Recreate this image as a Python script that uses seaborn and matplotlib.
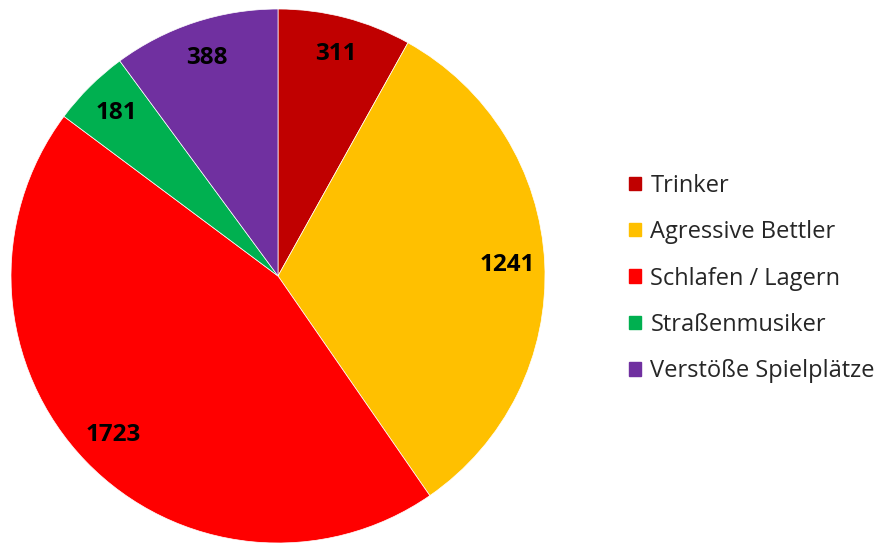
import matplotlib
matplotlib.use("Agg")
import matplotlib.pyplot as plt
import matplotlib.patches as mpatches
import seaborn as sns

categories = ["Trinker", "Agressive Bettler", "Schlafen / Lagern", "Straßenmusiker", "Verstöße Spielplätze"]
values = [311, 1241, 1723, 181, 388]
colors = ["#C00000", "#FFC000", "#FF0000", "#00B050", "#7030A0"]

sns.set_theme(style="white")
plt.rcParams["font.family"] = ["Open Sans", "DejaVu Sans"]

fig = plt.figure(figsize=(8.83, 5.43), dpi=100)
ax = fig.add_axes([11 / 883, 0 / 543, 534 / 883, 534 / 543])

palette = sns.color_palette(colors)
wedges, texts = ax.pie(values, labels=[str(v) for v in values], colors=palette,
                       startangle=90, counterclock=False, radius=1,
                       labeldistance=0.86,
                       wedgeprops=dict(edgecolor="white", linewidth=0.5),
                       textprops=dict(fontsize=17.5, fontweight="bold", color="black"))
for t in texts:
    t.set_horizontalalignment("center")
    t.set_verticalalignment("center")
ax.set_xlim(-1, 1)
ax.set_ylim(-1, 1)
ax.set_aspect("equal")

handles = [mpatches.Patch(color=c, label=l) for c, l in zip(palette, categories)]
fig.legend(handles=handles, loc="center left", bbox_to_anchor=(608 / 883, 0.487),
           frameon=False, fontsize=17, handlelength=0.5, handleheight=0.5,
           handletextpad=0.4, labelspacing=0.95)

fig.savefig("out.png", dpi=100)
